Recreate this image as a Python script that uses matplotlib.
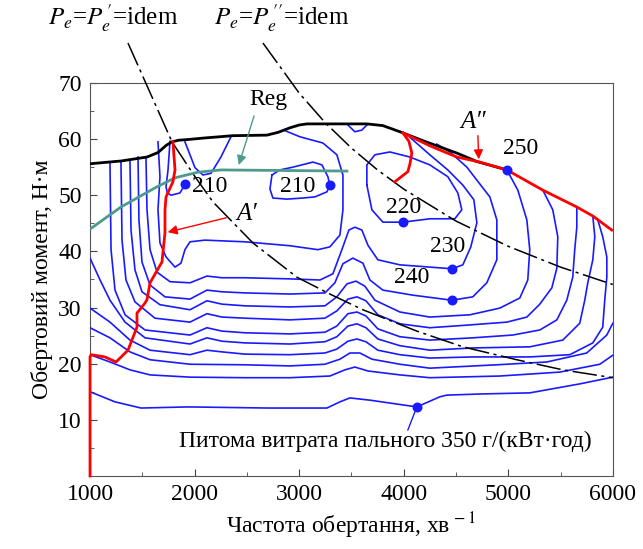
import matplotlib
matplotlib.use('Agg')
import matplotlib.pyplot as plt

plt.rcParams['font.family'] = ['Liberation Serif', 'DejaVu Serif']
plt.rcParams['mathtext.fontset'] = 'stix'
plt.rcParams['font.size'] = 17

# ---- data (rpm, N*m) ----
boundary_x = [1000, 1300, 1545, 1650, 1730, 1784, 1850, 1927, 2100, 2367, 2692, 2800, 2912,
              3000, 3075, 3648, 3800, 3964, 4200, 4509, 4700, 4987]
boundary_y = [55.6, 56.1, 56.8, 57.6, 58.9, 59.5, 59.8, 59.9, 60.2, 60.6, 60.7, 61.2, 62.0,
              62.5, 62.7, 62.7, 62.4, 61.3, 59.6, 57.5, 56.0, 54.5]

a2_x = [3992, 4250, 4509, 4728, 4987, 5331, 5656, 5809, 5990]
a2_y = [61.1, 58.8, 56.8, 55.9, 54.5, 50.9, 47.9, 46.3, 43.8]
a2_branch_x = [3992, 4050, 4078, 4060, 4040, 3916]
a2_branch_y = [61.1, 59.6, 57.5, 55.6, 54.2, 52.4]

a1_x = [1793, 1813, 1793, 1727, 1717, 1717, 1688, 1574, 1545, 1526, 1449, 1449,
        1363, 1249, 1143, 1010, 1000, 1000]
a1_y = [59.5, 54.5, 52.4, 49.7, 47.4, 43.3, 38.1, 34.4, 31.4, 30.8, 29.0, 26.5,
        22.4, 20.3, 21.2, 21.6, 21.2, 0.0]

reg_x = [1010, 1296, 1621, 1813, 2033, 2252, 3457]
reg_y = [44.1, 47.9, 51.3, 53.1, 54.1, 54.5, 54.3]

pe1_x = [1363, 1784, 2004, 2176, 2558, 2979, 3294, 3610, 4126, 4566, 5082, 5522, 6000]
pe1_y = [77.1, 59.5, 53.3, 48.8, 41.5, 35.4, 32.4, 29.6, 25.8, 23.0, 20.7, 18.9, 17.5]
pe2_x = [2654, 3000, 3250, 3500, 3750, 4000, 4500, 5000, 5500, 6000]
pe2_y = [77.1, 68.2, 62.9, 58.4, 54.5, 51.1, 45.4, 40.9, 37.2, 34.1]

# iso-lines of specific fuel consumption
iso_lines = {
    'hook210': ([1765, 1746, 1727, 1740, 1775, 1860, 1908],
                [59.6, 54.5, 51.5, 50.4, 50.0, 50.4, 51.9]),
    'dip210': ([1908, 2004, 2080, 2157, 2252, 2348],
               [59.5, 54.9, 53.6, 53.9, 56.8, 60.4]),
    'loop210': ([2740, 2816, 2941, 3132, 3218, 3275, 3294, 3266, 3151, 3036, 2883, 2749, 2721, 2740],
                [53.6, 54.5, 55.0, 55.9, 55.4, 53.3, 51.8, 50.6, 49.7, 49.5, 49.3, 49.5, 51.1, 53.6]),
    'top_u': ([3467, 3533, 3600, 3648], [62.5, 61.3, 61.6, 62.5]),
    'loop220': ([3648, 3648, 3725, 3868, 4059, 4250, 4422, 4518, 4556, 4489, 4250, 3992, 3801, 3696, 3648],
                [51.8, 55.4, 57.2, 57.7, 56.8, 55.4, 53.3, 50.4, 47.4, 45.8, 45.8, 45.2, 45.2, 47.4, 51.8]),
    'A': ([1650, 1669, 1650, 1669, 1727, 1813, 1870, 1908, 1956, 2099, 2482, 2912, 3180, 3294,
           3390, 3419, 3419, 3361, 3227, 3008, 2864],
          [59.5, 53.3, 47.4, 41.5, 39.0, 37.2, 37.9, 40.3, 41.7, 42.0, 41.7, 41.0, 40.3, 40.8,
           42.9, 47.4, 53.6, 57.2, 59.3, 60.4, 61.5]),
    'B230': ([1535, 1545, 1574, 1641, 1765, 1956, 2118, 2262, 2482, 2912, 3199, 3323, 3409, 3476,
              3533, 3600, 3658, 3753, 3964, 4461, 4566, 4642, 4700, 4671, 4566, 4422, 4250, 4060],
             [56.8, 47.4, 40.3, 36.3, 34.6, 34.4, 35.6, 35.3, 35.3, 35.1, 34.9, 36.0, 40.3, 43.8,
              44.3, 43.8, 41.1, 38.5, 37.6, 36.9, 37.6, 40.8, 45.1, 49.2, 51.8, 54.5, 57.2, 60.3]),
    'C240': ([1459, 1468, 1497, 1574, 1717, 1956, 2118, 2262, 2482, 2912, 3247, 3342, 3419, 3514,
              3610, 3677, 3801, 4088, 4461, 4661, 4795, 4891, 4891, 4824, 4604, 4442, 4317],
             [56.8, 45.6, 38.1, 34.0, 31.9, 31.5, 33.1, 32.8, 32.6, 32.4, 32.6, 34.4, 37.8, 38.8,
              37.9, 34.9, 33.1, 32.2, 31.3, 31.9, 34.4, 38.5, 45.6, 49.7, 55.0, 57.7, 59.1]),
    'D250': ([1382, 1392, 1430, 1497, 1669, 1956, 2118, 2262, 2482, 2912, 3247, 3361, 3457, 3543,
              3629, 3725, 3964, 4250, 4633, 4920, 5111, 5187, 5206, 5178, 5092, 4987],
             [56.3, 43.8, 36.7, 32.8, 30.5, 29.6, 31.2, 30.6, 30.3, 30.1, 30.3, 31.9, 34.2, 34.7,
              33.8, 31.3, 29.2, 28.3, 28.7, 29.9, 31.7, 34.9, 40.3, 45.6, 50.9, 54.5]),
    'E': ([1296, 1306, 1344, 1430, 1621, 1956, 2118, 2262, 2482, 2912, 3247, 3361, 3467, 3553,
           3639, 3753, 3964, 4250, 4633, 4987, 5178, 5302, 5417, 5465, 5474, 5426, 5331],
          [55.9, 42.0, 34.9, 31.0, 28.1, 27.4, 28.9, 28.3, 28.1, 27.8, 28.1, 29.4, 31.5, 31.9,
           31.2, 28.7, 27.1, 26.4, 26.9, 27.4, 28.3, 30.6, 33.5, 37.0, 42.6, 47.4, 50.9]),
    'F': ([1191, 1201, 1239, 1335, 1526, 1956, 2118, 2262, 2482, 2912, 3247, 3361, 3467, 3553,
           3639, 3753, 3964, 4250, 4661, 5044, 5302, 5465, 5560, 5617, 5636, 5656, 5656],
          [55.6, 40.3, 33.1, 28.7, 26.0, 25.1, 26.4, 25.8, 25.5, 25.3, 25.6, 26.7, 28.9, 29.2,
           28.5, 26.2, 24.8, 24.2, 24.6, 25.1, 26.0, 27.8, 31.3, 35.4, 40.3, 44.3, 47.9]),
    'G': ([1000, 1096, 1191, 1335, 1526, 1956, 2118, 2262, 2482, 2912, 3247, 3361, 3467, 3553,
           3639, 3753, 3964, 4250, 4661, 5206, 5522, 5684, 5732, 5761, 5809, 5828, 5809],
          [38.8, 34.9, 31.3, 27.4, 24.6, 23.5, 24.6, 24.0, 23.7, 23.5, 23.9, 24.8, 26.7, 27.1,
           26.4, 24.4, 23.2, 22.4, 22.8, 23.0, 24.2, 27.2, 31.3, 34.4, 38.5, 42.6, 46.3]),
    'H': ([1000, 1191, 1382, 1574, 1956, 2118, 2262, 2482, 2912, 3247, 3361, 3467, 3553, 3639,
           3753, 3964, 4250, 4661, 5206, 5589, 5809, 5904, 5923, 5943, 5943, 5904, 5857],
          [29.9, 27.4, 24.2, 22.4, 21.6, 22.4, 22.1, 21.7, 21.6, 21.9, 22.6, 24.0, 24.4, 23.9,
           22.4, 21.6, 21.0, 21.2, 21.2, 21.6, 23.7, 26.5, 31.3, 35.4, 39.0, 42.6, 45.6]),
    'I': ([1000, 1191, 1382, 1574, 1956, 2482, 2912, 3247, 3390, 3486, 3581, 3696, 3964, 4250,
           4891, 5369, 5751, 5943, 6000],
          [26.4, 24.6, 22.1, 20.7, 19.9, 19.8, 19.6, 19.9, 20.8, 21.9, 21.9, 20.8, 19.9, 19.2,
           19.8, 20.3, 21.9, 25.1, 27.2]),
    'J': ([1000, 1191, 1382, 1574, 1956, 2482, 2912, 3294, 3438, 3533, 3658, 3964, 4250, 4920,
           5493, 5876, 6000],
          [21.6, 20.3, 18.9, 18.0, 17.6, 17.5, 17.5, 17.8, 18.9, 19.4, 18.7, 18.0, 17.5, 17.8,
           18.5, 19.9, 21.5]),
    'L350': ([1000, 1239, 1488, 1937, 2702, 3266, 3390, 3486, 3677, 4126, 4346, 4413, 4728, 5206,
              5684, 6000],
             [15.0, 13.2, 12.1, 12.3, 12.1, 12.1, 13.2, 13.9, 13.5, 12.3, 14.1, 14.4, 14.6, 14.8,
              16.4, 17.6]),
}

dots_x = [1908, 3294, 3992, 4461, 4461, 4987, 4126]
dots_y = [52.0, 51.8, 45.2, 36.9, 31.3, 54.5, 12.3]

labels = ['210', '210', '220', '230', '240', '250']
labels_x = [2147, 2988, 4002, 4422, 4078, 5120]
labels_y = [51.5, 51.6, 47.9, 40.8, 35.4, 58.4]

fig = plt.figure(figsize=(6.43, 5.49), dpi=100)
ax = fig.add_axes([0.140, 0.133, 0.813, 0.716])

blue = '#1a1aff'
for name, (xs, ys) in iso_lines.items():
    ax.plot(xs, ys, color=blue, lw=1.2, solid_joinstyle='round', zorder=3)

ax.plot(pe1_x, pe1_y, color='black', lw=1.1, dashes=(16, 3, 2, 3), clip_on=False, zorder=4)
ax.plot(pe2_x, pe2_y, color='black', lw=1.1, dashes=(16, 3, 2, 3), clip_on=False, zorder=4)

ax.plot(reg_x, reg_y, color='#4e9a8c', lw=2.0, zorder=5)
ax.plot(boundary_x, boundary_y, color='black', lw=2.0, zorder=6)
ax.plot(a2_x, a2_y, color='#ff0000', lw=2.0, zorder=7)
ax.plot(a2_branch_x, a2_branch_y, color='#ff0000', lw=2.0, zorder=7)
ax.plot(a1_x, a1_y, color='#ff0000', lw=2.0, zorder=7, clip_on=False)

ax.scatter(dots_x, dots_y, s=38, color=blue, zorder=8)
for t, x, y in zip(labels, labels_x, labels_y):
    ax.text(x, y, t, ha='center', va='center', fontsize=17, zorder=9)

ax.text(3820, 6.2, 'Питома витрата пального 350 г/(кВт·год)', ha='center', va='center', fontsize=17)
ax.plot([4126, 4040], [12.3, 8.2], color=blue, lw=1)

# arrows and markers
ax.annotate('', xy=(1717, 43.3), xytext=(2329, 46.1),
            arrowprops=dict(arrowstyle='-|>', color='#ff0000', lw=1, mutation_scale=14), zorder=9)
ax.text(2500, 46.7, 'A′', fontsize=18, style='italic', ha='center', va='center')
ax.annotate('', xy=(4719, 55.9), xytext=(4709, 61.1),
            arrowprops=dict(arrowstyle='-|>', color='#ff0000', lw=1, mutation_scale=14), zorder=9)
ax.text(4661, 63.0, 'A″', fontsize=18, style='italic', ha='center', va='center')
ax.annotate('', xy=(2415, 54.9), xytext=(2577, 64.6),
            arrowprops=dict(arrowstyle='-|>', color='#4e9a8c', lw=1, mutation_scale=14), zorder=9)
ax.text(2702, 67.0, 'Reg', fontsize=17, ha='center', va='center')

fig.text(113 / 643, 1 - 18 / 549, r"$P_e$=$P_e^{\,\prime}$=idem", fontsize=18, ha='center', va='center')
fig.text(282 / 643, 1 - 18 / 549, r"$P_e$=$P_e^{\,\prime\prime}$=idem", fontsize=18, ha='center', va='center')

ax.set_xlim(1000, 6000)
ax.set_ylim(0, 70)
ax.set_xticks([1000, 2000, 3000, 4000, 5000, 6000])
ax.set_xticks([1500, 2500, 3500, 4500, 5500], minor=True)
ax.set_yticks([10, 20, 30, 40, 50, 60, 70])
ax.set_yticks([5, 15, 25, 35, 45, 55, 65], minor=True)
ax.tick_params(direction='in', which='both', labelsize=17, color='#444444')
ax.tick_params(which='major', length=5, pad=6)
ax.tick_params(which='minor', length=3)
for s in ax.spines.values():
    s.set_color('#555555')
ax.set_xlabel('Частота обертання, хв$^{\\,-1}$', fontsize=17)
ax.set_ylabel('Обертовий момент, Н·м', fontsize=17)

fig.savefig('out.png', dpi=100)
